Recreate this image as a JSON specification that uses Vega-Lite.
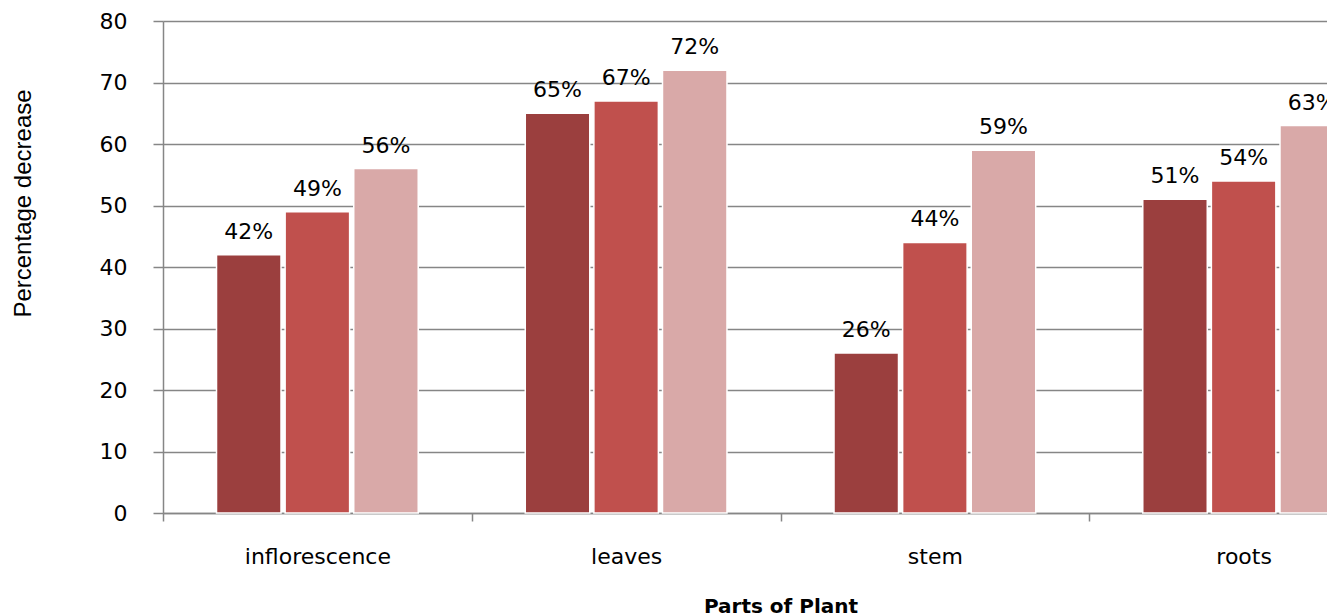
{
  "$schema": "https://vega.github.io/schema/vega-lite/v6.json",
  "autosize": "none",
  "padding": {"left": 163, "top": 21, "right": 0, "bottom": 102},
  "width": 1235,
  "height": 492,
  "background": "white",
  "data": {"values": [
    {"part": "inflorescence", "series": "Series 1", "value": 42, "label": "42%"},
    {"part": "inflorescence", "series": "Series 2", "value": 49, "label": "49%"},
    {"part": "inflorescence", "series": "Series 3", "value": 56, "label": "56%"},
    {"part": "leaves", "series": "Series 1", "value": 65, "label": "65%"},
    {"part": "leaves", "series": "Series 2", "value": 67, "label": "67%"},
    {"part": "leaves", "series": "Series 3", "value": 72, "label": "72%"},
    {"part": "stem", "series": "Series 1", "value": 26, "label": "26%"},
    {"part": "stem", "series": "Series 2", "value": 44, "label": "44%"},
    {"part": "stem", "series": "Series 3", "value": 59, "label": "59%"},
    {"part": "roots", "series": "Series 1", "value": 51, "label": "51%"},
    {"part": "roots", "series": "Series 2", "value": 54, "label": "54%"},
    {"part": "roots", "series": "Series 3", "value": 63, "label": "63%"}
  ]},
  "config": {"view": {"stroke": null}},
  "encoding": {
    "x": {
      "field": "part", "type": "nominal", "sort": ["inflorescence", "leaves", "stem", "roots"],
      "scale": {"paddingInner": 0, "paddingOuter": 0},
      "axis": {
        "title": "Parts of Plant", "titleFont": "DejaVu Sans", "titleFontSize": 20, "titleFontWeight": "bold",
        "titleColor": "#000", "titleY": 93, "titleBaseline": "middle",
        "labelAngle": 0, "labelFont": "DejaVu Sans", "labelFontSize": 22, "labelColor": "#000",
        "labelBaseline": "top", "labelPadding": 25, "tickSize": 8, "tickBand": "extent",
        "tickColor": "#868686", "tickWidth": 1.5, "domainColor": "#868686", "domainWidth": 1.5,
        "grid": false
      }
    },
    "xOffset": {"field": "series", "type": "nominal", "scale": {"paddingInner": 0.06, "paddingOuter": 0.78}},
    "y": {
      "field": "value", "type": "quantitative",
      "scale": {"domain": [0, 80], "nice": false},
      "axis": {
        "title": "Percentage decrease", "titleFont": "Liberation Sans", "titleFontSize": 24, "titleFontWeight": "normal",
        "titleColor": "#000", "titleX": -140, "titleY": 182, "titleBaseline": "middle", "titleAngle": -90,
        "values": [0, 10, 20, 30, 40, 50, 60, 70, 80],
        "labelFont": "DejaVu Sans", "labelFontSize": 22, "labelColor": "#000", "labelPadding": 26,
        "tickSize": 10, "tickColor": "#868686", "tickWidth": 1.5,
        "domainColor": "#868686", "domainWidth": 1.5,
        "grid": true, "gridColor": "#868686", "gridWidth": 1.3
      }
    }
  },
  "layer": [
    {
      "mark": {"type": "bar", "stroke": "white", "strokeWidth": 1.5},
      "encoding": {
        "color": {"field": "series", "type": "nominal",
          "scale": {"domain": ["Series 1", "Series 2", "Series 3"], "range": ["#9B3F3E", "#C0504D", "#D9A9A8"]},
          "legend": null}
      }
    },
    {
      "mark": {"type": "text", "font": "DejaVu Sans", "fontSize": 22, "baseline": "alphabetic", "dy": -16, "color": "#000"},
      "encoding": {"text": {"field": "label", "type": "nominal"}}
    }
  ]
}
